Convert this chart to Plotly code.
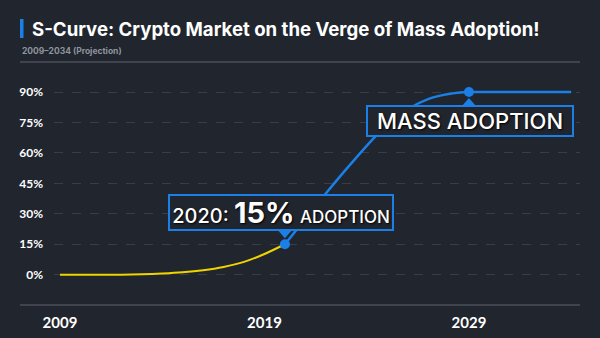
import plotly.graph_objects as go

# ---- data ----
years_hist = [2009, 2010, 2011, 2012, 2013, 2014, 2015, 2016, 2017, 2018, 2019, 2020]
adoption_hist = [0, 0, 0, 0, 0.2, 0.6, 1.2, 2.2, 3.8, 6.3, 10.2, 15]
years_proj = [2020, 2021, 2022, 2023, 2024, 2025, 2026, 2027, 2028, 2029, 2030, 2031, 2032, 2033, 2034]
adoption_proj = [15, 27.5, 40, 52, 63.5, 74, 81.5, 86.5, 89, 90, 90, 90, 90, 90, 90]
y_ticks = [0, 15, 30, 45, 60, 75, 90]
x_ticks = [2009, 2019, 2029]
highlight_years = [2020, 2029]
highlight_vals = [15, 90]

BG = "#21252e"
BLUE = "#1a7fe6"
YELLOW = "#f0d400"
GRID = "#383d47"
FRAME = "#4a4f5a"

fig = go.Figure()
fig.add_trace(go.Scatter(x=years_hist, y=adoption_hist, mode="lines",
                         line=dict(color=YELLOW, width=2, shape="spline", smoothing=0.8),
                         hoverinfo="skip", showlegend=False))
fig.add_trace(go.Scatter(x=years_proj, y=adoption_proj, mode="lines",
                         line=dict(color=BLUE, width=2.5, shape="spline", smoothing=0.8),
                         hoverinfo="skip", showlegend=False))
fig.add_trace(go.Scatter(x=highlight_years, y=highlight_vals, mode="markers",
                         marker=dict(color=BLUE, size=10),
                         hoverinfo="skip", showlegend=False))

L, R, T, B = 54, 20, 62, 33
W, H = 600, 338
pw = W - L - R
ph = H - T - B

def px_x(px):
    return (px - L) / pw

def px_y(py):
    return (H - B - py) / ph

shadow = "1px 1px 2px #000000"

annotations = [
    dict(xref="paper", yref="paper", x=px_x(30), y=px_y(29), xanchor="left", yanchor="middle",
         text="<b>S-Curve: Crypto Market on the Verge of Mass Adoption!</b>", showarrow=False,
         font=dict(family="Inter", size=18.6, color="#ffffff")),
    dict(xref="paper", yref="paper", x=px_x(20), y=px_y(51), xanchor="left", yanchor="middle",
         text="<b>2009–2034 (Projection)</b>", showarrow=False,
         font=dict(family="Inter", size=8.5, color="#8e949e")),
    # 2020 callout
    dict(x=highlight_years[0], y=highlight_vals[0], xref="x", yref="y",
         text="2020: <b><span style='font-size:29px'>15%</span></b> <span style='font-size:17px'>ADOPTION</span>",
         showarrow=False, xshift=-4, yshift=32, width=220, height=31,
         font=dict(family="Inter", size=20, color="#ffffff", weight=500, shadow=shadow),
         bgcolor=BG, bordercolor=BLUE, borderwidth=2, borderpad=1),
    # 2029 callout
    dict(x=highlight_years[1], y=highlight_vals[1], xref="x", yref="y",
         text="MASS ADOPTION", showarrow=False, xshift=1, yshift=-29, width=202, height=26,
         font=dict(family="Inter", size=22, color="#ffffff", weight=500, shadow=shadow),
         bgcolor=BG, bordercolor=BLUE, borderwidth=2, borderpad=1),
]

shapes = [
    dict(type="rect", xref="paper", yref="paper", x0=px_x(20), x1=px_x(23.5),
         y0=px_y(38), y1=px_y(19), fillcolor=BLUE, line=dict(width=0)),
    dict(type="line", xref="paper", yref="paper", x0=px_x(20), x1=1, y0=1, y1=1,
         line=dict(color=FRAME, width=1.5)),
    dict(type="line", xref="paper", yref="paper", x0=px_x(20), x1=1, y0=0, y1=0,
         line=dict(color=FRAME, width=1.5)),
    # callout pointer triangles, anchored at the highlighted points
    dict(type="path", xref="x", yref="y", xsizemode="pixel", ysizemode="pixel",
         xanchor=highlight_years[0], yanchor=highlight_vals[0],
         path="M-7,14 L7,14 L0,6 Z", fillcolor=BLUE, line=dict(width=0), layer="above"),
    dict(type="path", xref="x", yref="y", xsizemode="pixel", ysizemode="pixel",
         xanchor=highlight_years[1], yanchor=highlight_vals[1],
         path="M-7,-14 L7,-14 L0,-6 Z", fillcolor=BLUE, line=dict(width=0), layer="above"),
]

fig.update_layout(
    width=W, height=H,
    margin=dict(l=L, r=R, t=T, b=B, autoexpand=False),
    paper_bgcolor=BG, plot_bgcolor=BG,
    annotations=annotations, shapes=shapes,
    xaxis=dict(range=[2008.707, 2034.43], tickvals=x_ticks, ticktext=[str(v) for v in x_ticks],
               showgrid=False, zeroline=False, showline=False, ticks="", automargin=False,
               tickfont=dict(family="Lato", size=15, color="#ffffff", weight="bold"),
               ticklabelstandoff=7),
    yaxis=dict(range=[-14.93, 104.8], tickvals=y_ticks, ticktext=[f"{v}%" for v in y_ticks],
               showgrid=True, gridcolor=GRID, griddash="dash", gridwidth=1,
               zeroline=False, showline=False, ticks="", automargin=False,
               tickfont=dict(family="Lato", size=12, color="#ffffff", weight="bold"),
               ticklabelstandoff=10),
)

fig.write_html("out.html")
